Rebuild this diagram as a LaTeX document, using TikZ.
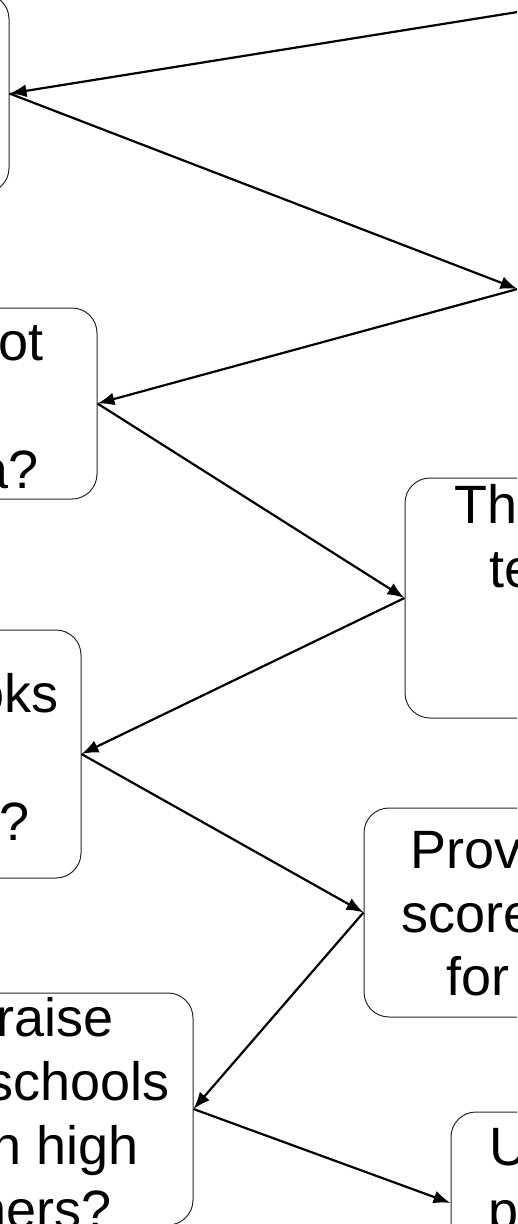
\documentclass[tikz,border=0pt]{standalone}
\usepackage{fontspec}
\setmainfont{Liberation Sans}
\usetikzlibrary{arrows.meta}

\begin{document}
\begin{tikzpicture}[
		x=1pt, y=-1pt,
		box/.style = {draw=black!85, line width=1pt, rounded corners=25pt, minimum width=300pt, inner sep=0pt},
		txt/.style = {inner sep=0pt, font=\fontsize{54}{64}\selectfont},
		conn/.style = {-{Latex[length=17pt, width=13pt]}, line width=2.2pt},
	]
	\path[use as bounding box] (0,0) rectangle (517,1224);
	\clip (0,0) rectangle (517,1224);

	% question boxes, left and right column
	\node[box, minimum height=199pt] (QA) at (-141,93.5) {};
	\node[box, minimum height=200pt] (QB) at (668,289) {};
	\node[box, minimum height=191pt] (QC) at (-53,403.5) {};
	\node[box, minimum height=240pt] (QD) at (555,598) {};
	\node[box, minimum height=248pt] (QE) at (-69,754) {};
	\node[box, minimum height=209pt] (QF) at (514,912.5) {};
	\node[box, minimum height=232pt] (QG) at (43,1109) {};
	\node[box, minimum height=182pt] (QH) at (601,1203) {};
	\coordinate (Q0) at (600,-1.2);

	% visible parts of the texts
	\node[txt, anchor=base east] (QCa) at (44,360) {ot};
	\node[txt, anchor=base east] (QCb) at (39,488) {a?};
	\node[txt, anchor=base east] (QEa) at (59,712) {oks};
	\node[txt, anchor=base east] (QEb) at (30,840) {t?};
	\node[txt, anchor=base west] (QDa) at (454,523) {Th};
	\node[txt, anchor=base west] (QDb) at (489,587) {te};
	\node[txt, anchor=base west] (QFa) at (410,868) {Prov};
	\node[txt, anchor=base west] (QFb) at (401,932) {score};
	\node[txt, anchor=base west] (QFc) at (446,995) {for};
	\node[txt, anchor=base east] (QGa) at (114,1036) {raise};
	\node[txt, anchor=base east] (QGb) at (170,1100) {schools};
	\node[txt, anchor=base east] (QGc) at (139,1164) {h high};
	\node[txt, anchor=base east] (QGd) at (112,1228) {hers?};
	\node[txt, anchor=base west] (QHa) at (489,1165) {U};
	\node[txt, anchor=base west] (QHb) at (488,1229) {p};

	% zigzag of arrows
	\draw[conn] (Q0) -- (QA.east);
	\draw[conn] (QA.east) -- (QB.west);
	\draw[conn] (QB.west) -- (QC.east);
	\draw[conn] (QC.east) -- (QD.west);
	\draw[conn] (QD.west) -- (QE.east);
	\draw[conn] (QE.east) -- (QF.west);
	\draw[conn] (QF.west) -- (QG.east);
	\draw[conn] (QG.east) -- (QH.west);
\end{tikzpicture}
\end{document}
